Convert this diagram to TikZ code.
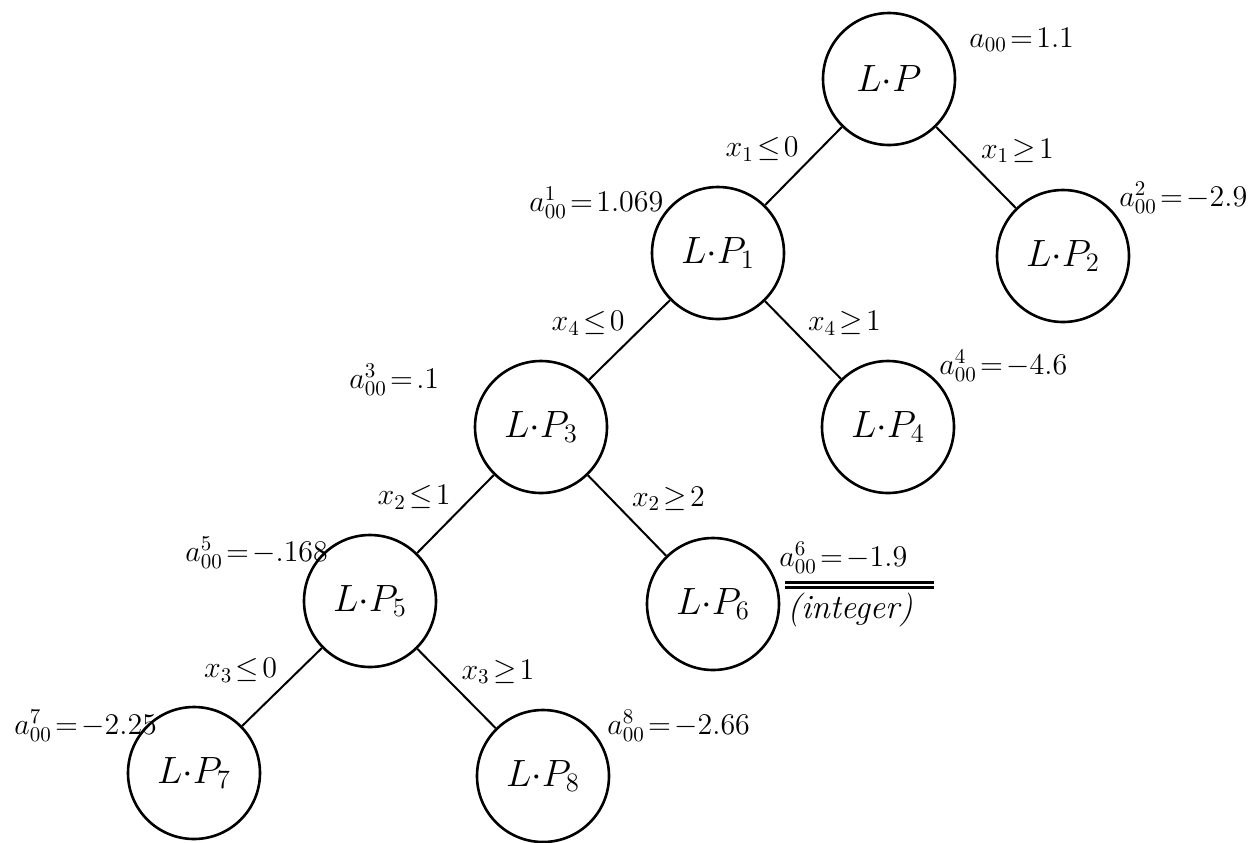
\RequirePackage{fix-cm}
\documentclass[tikz,border=0pt]{standalone}
\usepackage{amsmath,amssymb}
\usetikzlibrary{positioning}
\newcommand{\teq}{\mkern2mu{=}\mkern2mu}
\newcommand{\tle}{\mkern2mu{\le}\mkern2mu}
\newcommand{\tge}{\mkern2mu{\ge}\mkern2mu}
\tikzset{
  lpnode/.style = {draw, circle, line width=1.3pt, inner sep=0pt,
                   minimum size=66pt, font=\fontsize{19}{23}\selectfont},
  branch/.style = {line width=1pt},
  cut/.style    = {font=\fontsize{15}{18}\selectfont, inner sep=2pt},
  val/.style    = {font=\fontsize{15}{18}\selectfont, inner sep=1pt, anchor=west},
  uline/.style  = {line width=1.4pt},
}
\begin{document}
\begin{tikzpicture}[x=0.5pt,y=-0.5pt]
\useasboundingbox (0,0) rectangle (1249,842);
% subproblems
\node[lpnode] (lp)  at (889,79)  {$L{\cdot}P$};
\node[lpnode] (lp1) at (718,253) {$L{\cdot}P_1$};
\node[lpnode] (lp2) at (1063,256) {$L{\cdot}P_2$};
\node[lpnode] (lp3) at (541,427) {$L{\cdot}P_3$};
\node[lpnode] (lp4) at (888,427) {$L{\cdot}P_4$};
\node[lpnode] (lp5) at (370,601) {$L{\cdot}P_5$};
\node[lpnode] (lp6) at (713,604) {$L{\cdot}P_6$};
\node[lpnode] (lp7) at (194,773) {$L{\cdot}P_7$};
\node[lpnode] (lp8) at (543,776) {$L{\cdot}P_8$};
% branches
\draw[branch] (lp)  -- node[cut,above left]  {$x_1\tle 0$} (lp1);
\draw[branch] (lp)  -- node[cut,above right] {$x_1\tge 1$} (lp2);
\draw[branch] (lp1) -- node[cut,above left]  {$x_4\tle 0$} (lp3);
\draw[branch] (lp1) -- node[cut,above right] {$x_4\tge 1$} (lp4);
\draw[branch] (lp3) -- node[cut,above left]  {$x_2\tle 1$} (lp5);
\draw[branch] (lp3) -- node[cut,above right] {$x_2\tge 2$} (lp6);
\draw[branch] (lp5) -- node[cut,above left]  {$x_3\tle 0$} (lp7);
\draw[branch] (lp5) -- node[cut,above right] {$x_3\tge 1$} (lp8);
% objective values
\node[val] (v0) at (967,40)  {$a_{00}\teq 1.1$};
\node[val] (v1) at (527,203) {$a^1_{00}\teq 1.069$};
\node[val] (v2) at (1117,198) {$a^2_{00}\teq{-}2.9$};
\node[val] (v3) at (347,380) {$a^3_{00}\teq .1$};
\node[val] (v4) at (937,366) {$a^4_{00}\teq{-}4.6$};
\node[val] (v5) at (183,553) {$a^5_{00}\teq{-}.168$};
\node[val] (v6) at (777,558) {$a^6_{00}\teq{-}1.9$};
\node[val] (v7) at (12,726)  {$a^7_{00}\teq{-}2.25$};
\node[val] (v8) at (605,726) {$a^8_{00}\teq{-}2.66$};
\draw[uline] ([xshift=4pt,yshift=-3pt]v6.south west) -- ([xshift=12pt,yshift=-3pt]v6.south east);
\draw[uline] ([xshift=4pt,yshift=-5.5pt]v6.south west) -- ([xshift=12pt,yshift=-5.5pt]v6.south east);
\node[val,font=\fontsize{17}{20}\selectfont,below right=7pt and 4pt of v6.south west] (int6) {\textit{(integer)}};
\end{tikzpicture}
\end{document}
